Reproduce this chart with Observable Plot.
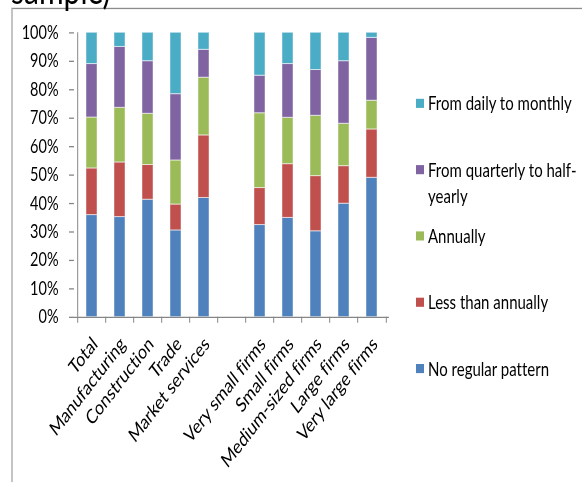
<!DOCTYPE html>
<html><head><meta charset="utf-8">
<script src="https://cdn.jsdelivr.net/npm/d3@7"></script>
<script src="https://cdn.jsdelivr.net/npm/@observablehq/plot@0.6"></script>
<style>
html,body{margin:0;padding:0;background:#fff;overflow:hidden;}
#outer{position:relative;width:582px;height:482px;overflow:hidden;background:#fff;}
/* the reference is drawn with a vertical stretch of ~1.3 */
#wrap{position:absolute;left:0;top:0;width:582px;height:370.77px;transform:scaleY(1.3);transform-origin:0 0;font-family:Lato,"Open Sans",sans-serif;font-variant-ligatures:none;}
#wrap svg text{font-variant-ligatures:none;}
#title{position:absolute;left:11px;top:-23.6px;font-size:30px;line-height:30px;color:#000;white-space:nowrap;}
#frame{position:absolute;left:11px;top:6.4px;width:600px;height:500px;border-top:1px solid #8c8c8c;border-left:2px solid #c4c4c4;}
#chart{position:absolute;left:0;top:0;}
.li{position:absolute;left:416px;width:162px;font-size:15px;line-height:20.5px;color:#000;}
.li .sw{position:absolute;left:0;top:6.8px;width:8px;height:7px;}
.li .tx{margin-left:12px;}
</style>
</head><body>
<div id="outer">
<div id="wrap">
  <div id="frame"></div>
  <div id="title">sample)</div>
  <div id="chart"></div>
  <div id="legend"></div>
</div>
</div>
<script>
const gap = "__gap__";
const categories = ["Total","Manufacturing","Construction","Trade","Market services",gap,
  "Very small firms","Small firms","Medium-sized firms","Large firms","Very large firms"];
const series = ["No regular pattern","Less than annually","Annually","From quarterly to half-yearly","From daily to monthly"];
const colors = ["#4F81BD","#C0504D","#9BBB59","#8064A2","#4BACC6"];
// values in %, one per category (null for the gap)
const noRegularPattern     = [35.9, 35.2, 41.3, 30.5, 41.9, null, 32.4, 34.9, 30.2, 39.9, 49.0];
const lessThanAnnually     = [16.4, 19.2, 12.2,  9.1, 22.0, null, 13.0, 18.9, 19.4, 13.2, 17.0];
const annually             = [17.9, 19.2, 18.0, 15.5, 20.3, null, 26.3, 16.3, 21.2, 14.9, 10.1];
const quarterlyToHalfYear  = [18.8, 21.4, 18.5, 23.3,  9.8, null, 13.2, 18.9, 16.1, 22.0, 22.1];
const dailyToMonthly       = [11.0,  5.0, 10.0, 21.6,  6.0, null, 15.1, 11.0, 13.1, 10.0,  1.8];
const yTicks = [0,10,20,30,40,50,60,70,80,90,100];

const seriesValues = [noRegularPattern, lessThanAnnually, annually, quarterlyToHalfYear, dailyToMonthly];
const rows = [];
categories.forEach((c, i) => {
  if (c === gap) return;
  series.forEach((s, j) => rows.push({category: c, series: s, value: seriesValues[j][i]}));
});

const W = 582, H = 482 / 1.3, ml = 74, mr = 193, mt = 24.8, mb = H - 243.6;
const step = (W - ml - mr) / categories.length;
const axisColor = "#868686";

const plot = Plot.plot({
  width: W, height: H,
  marginLeft: ml, marginRight: mr, marginTop: mt, marginBottom: mb,
  style: {fontFamily: "Lato, 'Open Sans', sans-serif", fontSize: "14.5px", color: "#000", background: "transparent", overflow: "visible"},
  x: {domain: categories, paddingInner: 0.59, paddingOuter: 0.295, axis: null},
  y: {domain: [0, 100], axis: null},
  color: {domain: series, range: colors},
  marks: [
    Plot.barY(rows, {x: "category", y: "value", fill: "series", stroke: "#ffffff", strokeOpacity: 0.55, strokeWidth: 0.8}),
    Plot.ruleY([0], {stroke: axisColor}),
    Plot.ruleX([categories[0]], {y1: 0, y2: 100, dx: -step / 2, stroke: axisColor}),
    Plot.axisY({ticks: yTicks, tickSize: 5, tickPadding: 11, tickFormat: d => d + "%", label: null, stroke: axisColor, fill: "#000"}),
    Plot.axisX({tickSize: 4.6, tickFormat: () => "", dx: -step / 2, label: null, stroke: axisColor}),
    Plot.axisX({ticks: [categories[categories.length - 1]], tickSize: 4.6, tickFormat: () => "", dx: step / 2, label: null, stroke: axisColor}),
    Plot.axisX({tickSize: 0, tickRotate: -45, tickPadding: 18, dx: 3, tickFormat: d => d === gap ? "" : d, label: null, fill: "#000", fontSize: 15.5})
  ]
});
document.getElementById("chart").appendChild(plot);

// legend (top entry = top of stack)
const legend = document.getElementById("legend");
series.slice().reverse().forEach((s, i) => {
  const ci = series.indexOf(s);
  const item = document.createElement("div");
  item.className = "li";
  item.style.top = (79 + i * 51.08 - 20.5 / 2) + "px";
  const sw = document.createElement("div");
  sw.className = "sw";
  sw.style.background = colors[ci];
  const tx = document.createElement("div");
  tx.className = "tx";
  tx.textContent = s;
  item.appendChild(sw); item.appendChild(tx);
  legend.appendChild(item);
});
</script>
</body></html>
